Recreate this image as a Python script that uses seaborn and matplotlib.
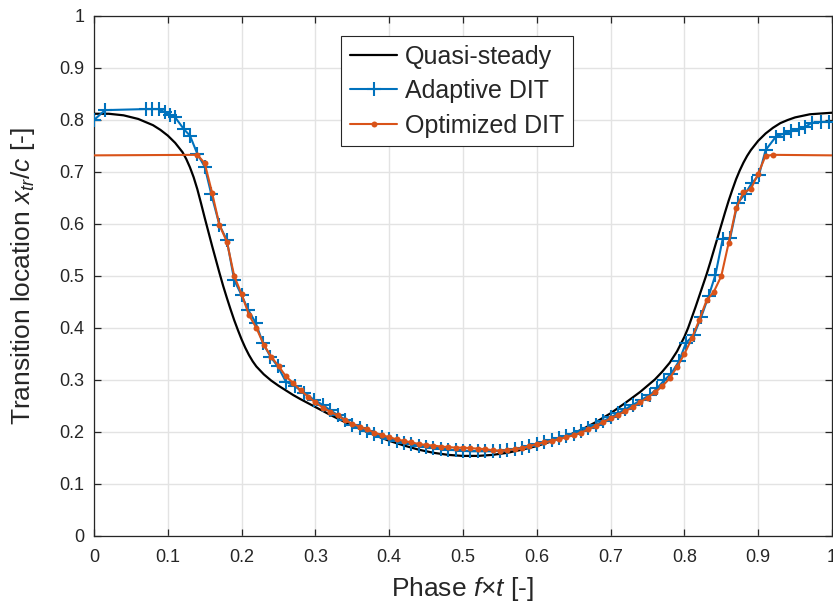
import numpy as np
import pandas as pd
import seaborn as sns
import matplotlib
matplotlib.use("Agg")
import matplotlib.pyplot as plt
from matplotlib.lines import Line2D

# ---------------- data ----------------
qs_x = [0.00, 0.02, 0.04, 0.06, 0.08, 0.09, 0.10, 0.11, 0.12, 0.125, 0.13, 0.135,
        0.14, 0.145, 0.15, 0.155, 0.16, 0.165, 0.17, 0.175, 0.18, 0.185, 0.19, 0.195,
        0.20, 0.205, 0.21, 0.215, 0.22, 0.23, 0.24, 0.25, 0.26, 0.27, 0.28, 0.30,
        0.32, 0.34, 0.36, 0.38, 0.40, 0.42, 0.44, 0.46, 0.48, 0.50, 0.52, 0.54,
        0.56, 0.58, 0.60, 0.62, 0.64, 0.66, 0.68, 0.70, 0.72, 0.74, 0.75, 0.76,
        0.77, 0.78, 0.79, 0.80, 0.805, 0.81, 0.815, 0.82, 0.825, 0.83, 0.835, 0.84,
        0.845, 0.85, 0.855, 0.86, 0.865, 0.87, 0.875, 0.88, 0.885, 0.89, 0.90, 0.91,
        0.92, 0.93, 0.94, 0.95, 0.96, 0.97, 0.98, 1.00]
qs_y = [0.812, 0.812, 0.809, 0.802, 0.790, 0.781, 0.770, 0.756, 0.738, 0.725, 0.709, 0.690,
        0.667, 0.640, 0.612, 0.585, 0.558, 0.532, 0.506, 0.481, 0.458, 0.436, 0.415, 0.396,
        0.378, 0.362, 0.348, 0.336, 0.326, 0.311, 0.299, 0.289, 0.280, 0.271, 0.263, 0.248,
        0.233, 0.219, 0.206, 0.194, 0.183, 0.174, 0.166, 0.160, 0.156, 0.154, 0.154, 0.156,
        0.160, 0.166, 0.173, 0.182, 0.192, 0.204, 0.219, 0.236, 0.256, 0.277, 0.289, 0.301,
        0.316, 0.333, 0.355, 0.383, 0.400, 0.420, 0.440, 0.461, 0.482, 0.503, 0.526, 0.550,
        0.574, 0.598, 0.622, 0.645, 0.666, 0.686, 0.703, 0.718, 0.731, 0.742, 0.760, 0.774,
        0.785, 0.794, 0.800, 0.805, 0.808, 0.811, 0.812, 0.814]

ad_x = [0.000, 0.015, 0.070, 0.078, 0.088, 0.096, 0.103, 0.110, 0.122, 0.130,
        0.140, 0.150, 0.159, 0.170, 0.180, 0.190, 0.200, 0.209, 0.219, 0.229,
        0.239, 0.249, 0.260, 0.272, 0.285, 0.298, 0.310, 0.320, 0.330, 0.340,
        0.350, 0.360, 0.370, 0.380, 0.390, 0.400, 0.410, 0.420, 0.430, 0.440,
        0.450, 0.460, 0.470, 0.480, 0.490, 0.500, 0.510, 0.520, 0.530, 0.540,
        0.550, 0.560, 0.570, 0.580, 0.590, 0.600, 0.610, 0.620, 0.630, 0.640,
        0.650, 0.660, 0.670, 0.680, 0.690, 0.700, 0.710, 0.720, 0.730, 0.742,
        0.754, 0.763, 0.773, 0.782, 0.793, 0.802, 0.813, 0.823, 0.833, 0.842,
        0.852, 0.862, 0.872, 0.882, 0.891, 0.901, 0.910, 0.924, 0.935, 0.944,
        0.955, 0.964, 0.973, 0.985, 0.996]
ad_y = [0.800, 0.819, 0.821, 0.821, 0.821, 0.815, 0.810, 0.805, 0.782, 0.770,
        0.735, 0.710, 0.657, 0.598, 0.569, 0.492, 0.463, 0.435, 0.410, 0.371,
        0.345, 0.326, 0.297, 0.288, 0.275, 0.262, 0.252, 0.242, 0.233, 0.224,
        0.214, 0.207, 0.201, 0.196, 0.191, 0.187, 0.183, 0.179, 0.176, 0.173,
        0.171, 0.169, 0.167, 0.166, 0.165, 0.164, 0.163, 0.163, 0.163, 0.163,
        0.164, 0.165, 0.167, 0.170, 0.173, 0.177, 0.181, 0.185, 0.189, 0.193,
        0.197, 0.202, 0.208, 0.214, 0.221, 0.228, 0.236, 0.244, 0.252, 0.262,
        0.272, 0.284, 0.300, 0.312, 0.337, 0.371, 0.387, 0.422, 0.462, 0.502,
        0.572, 0.573, 0.640, 0.657, 0.678, 0.694, 0.742, 0.768, 0.774, 0.778,
        0.782, 0.787, 0.795, 0.796, 0.797]

op_x = [0.00, 0.14, 0.15, 0.16, 0.17, 0.18, 0.19, 0.20, 0.21, 0.22, 0.23, 0.24,
        0.25, 0.26, 0.27, 0.28, 0.29, 0.30, 0.31, 0.32, 0.33, 0.34, 0.35, 0.36,
        0.37, 0.38, 0.39, 0.40, 0.41, 0.42, 0.43, 0.44, 0.45, 0.46, 0.47, 0.48,
        0.49, 0.50, 0.51, 0.52, 0.53, 0.54, 0.55, 0.56, 0.57, 0.58, 0.59, 0.60,
        0.61, 0.62, 0.63, 0.64, 0.65, 0.66, 0.67, 0.68, 0.69, 0.70, 0.71, 0.72,
        0.73, 0.74, 0.75, 0.76, 0.77, 0.78, 0.79, 0.80, 0.81, 0.82, 0.83, 0.84,
        0.85, 0.86, 0.87, 0.88, 0.89, 0.90, 0.91, 0.92, 1.00]
op_y = [0.732, 0.733, 0.717, 0.660, 0.598, 0.566, 0.500, 0.465, 0.425, 0.400, 0.368, 0.345,
        0.327, 0.307, 0.294, 0.280, 0.268, 0.257, 0.247, 0.239, 0.232, 0.223, 0.216, 0.210,
        0.205, 0.199, 0.194, 0.190, 0.186, 0.183, 0.180, 0.177, 0.175, 0.174, 0.172, 0.171,
        0.170, 0.170, 0.169, 0.168, 0.167, 0.165, 0.164, 0.165, 0.167, 0.169, 0.173, 0.177,
        0.180, 0.183, 0.186, 0.190, 0.194, 0.199, 0.205, 0.212, 0.219, 0.226, 0.233, 0.240,
        0.248, 0.257, 0.266, 0.276, 0.288, 0.303, 0.325, 0.350, 0.380, 0.415, 0.453, 0.470,
        0.500, 0.564, 0.630, 0.661, 0.667, 0.697, 0.731, 0.733, 0.732]

tick_vals = [0, 0.1, 0.2, 0.3, 0.4, 0.5, 0.6, 0.7, 0.8, 0.9, 1]
tick_labels = ["0", "0.1", "0.2", "0.3", "0.4", "0.5", "0.6", "0.7", "0.8", "0.9", "1"]

# ---------------- style ----------------
sns.set_theme(style="whitegrid")
plt.rcParams["font.family"] = ["Liberation Sans", "DejaVu Sans"]
plt.rcParams["mathtext.fontset"] = "custom"
plt.rcParams["mathtext.rm"] = "Liberation Sans"
plt.rcParams["mathtext.it"] = "Liberation Sans:italic"

BLUE = "#0072BD"
ORANGE = "#D95319"
AXC = "#262626"

fig = plt.figure(figsize=(8.33, 6.07), dpi=100)
ax = fig.add_axes([94 / 833, 71 / 607, 738 / 833, 520 / 607])
ax.set_facecolor("white")

df_qs = pd.DataFrame({"x": qs_x, "y": qs_y})
df_ad = pd.DataFrame({"x": ad_x, "y": ad_y})
df_op = pd.DataFrame({"x": op_x, "y": op_y})

sns.lineplot(data=df_qs, x="x", y="y", ax=ax, color="black", linewidth=1.6,
             estimator=None, sort=False, zorder=3)
sns.lineplot(data=df_ad, x="x", y="y", ax=ax, color=BLUE, linewidth=1.5,
             marker="+", markersize=10, markeredgewidth=1.5, markeredgecolor=BLUE,
             estimator=None, sort=False, zorder=4)
sns.lineplot(data=df_op, x="x", y="y", ax=ax, color=ORANGE, linewidth=1.5,
             marker="o", markersize=4.3, markeredgewidth=0, markeredgecolor=ORANGE,
             markerfacecolor=ORANGE,
             markevery=slice(1, len(op_x) - 1),
             estimator=None, sort=False, zorder=5)

ax.set_xlim(0, 1)
ax.set_ylim(0, 1)
ax.set_xticks(tick_vals)
ax.set_xticklabels(tick_labels)
ax.set_yticks(tick_vals)
ax.set_yticklabels(tick_labels)

ax.grid(True, color="#e3e3e3", linewidth=1.0)
ax.set_axisbelow(True)
for s in ax.spines.values():
    s.set_visible(True)
    s.set_color(AXC)
    s.set_linewidth(0.9)

ax.tick_params(axis="both", which="both", direction="in", length=5, width=0.9,
               color=AXC, labelcolor=AXC, labelsize=13, top=True, right=True,
               bottom=True, left=True)
ax.tick_params(axis="x", pad=9)
ax.tick_params(axis="y", pad=7)

ax.set_xlabel("Phase $f$×$t$ [-]", fontsize=19, color=AXC, labelpad=7)
ax.set_ylabel("Transition location $x_{tr}/c$ [-]", fontsize=19, color=AXC, labelpad=16)

handles = [
    Line2D([], [], color="black", linewidth=1.6),
    Line2D([], [], color=BLUE, linewidth=1.5, marker="+", markersize=10, markeredgewidth=1.5),
    Line2D([], [], color=ORANGE, linewidth=1.5, marker="o", markersize=4.3, markeredgewidth=0),
]
leg = ax.legend(handles, ["Quasi-steady", "Adaptive DIT", "Optimized DIT"],
                loc="upper center", bbox_to_anchor=(0.492, 0.962), borderaxespad=0,
                fontsize=18, fancybox=False, framealpha=1, edgecolor=AXC,
                handlelength=1.9, handletextpad=0.3, labelspacing=0.42,
                borderpad=0.35)
leg.get_frame().set_linewidth(0.8)

fig.savefig("out.png", dpi=100)
